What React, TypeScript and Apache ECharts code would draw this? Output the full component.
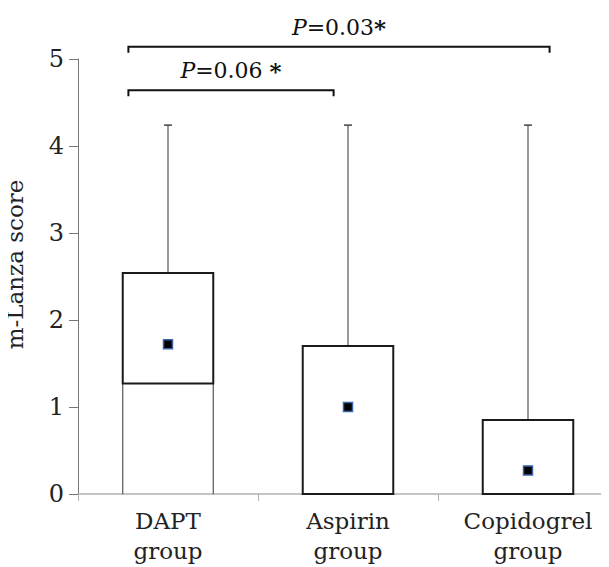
import React, { useEffect, useRef } from "react";
import * as echarts from "echarts";

const categories = ["DAPT\ngroup", "Aspirin\ngroup", "Copidogrel\ngroup"];
const boxLow = [1.27, 0, 0];
const boxHigh = [2.54, 1.7, 0.85];
const whiskerHigh = [4.24, 4.24, 4.24];
const whiskerBase = [0, 0, 0];
const means = [1.72, 1.0, 0.27];

const yTicks = [0, 1, 2, 3, 4, 5];

const bracketFrom = [-0.22, -0.22];
const bracketTo = [0.92, 2.12];
const bracketY = [4.64, 5.14];
const bracketP = ["0.06", "0.03"];
const bracketStarSep = [" ", ""];

const FONT = "'DejaVu Serif', serif";

export default function App() {
  const ref = useRef<HTMLDivElement>(null);
  useEffect(() => {
    if (!ref.current) return;
    const chart = echarts.init(ref.current, undefined, { renderer: "svg" });
    const boxData = categories.map((_, i) => [i, boxLow[i], boxHigh[i], whiskerHigh[i], whiskerBase[i]]);
    const bracketData = bracketY.map((y, i) => [bracketFrom[i], bracketTo[i], y, i]);
    chart.setOption({
      animation: false,
      grid: {
        left: 78,
        right: -9,
        top: 59,
        bottom: 73,
        containLabel: false,
        outerBoundsMode: "none",
      },
      xAxis: {
        type: "category",
        data: categories,
        boundaryGap: true,
        axisLine: { lineStyle: { color: "#b0b0b0", width: 1.5 } },
        axisTick: { show: true, length: 7, lineStyle: { color: "#b0b0b0" } },
        axisLabel: {
          fontFamily: FONT,
          fontSize: 23,
          color: "#222",
          lineHeight: 30,
          margin: 12,
        },
      },
      yAxis: {
        type: "value",
        min: 0,
        max: 5,
        interval: 1,
        name: "m-Lanza score",
        nameLocation: "middle",
        nameRotate: 90,
        nameGap: 52,
        nameTextStyle: { fontFamily: FONT, fontSize: 23, color: "#222", padding: [0, 0, 0, 24] },
        splitLine: { show: false },
        axisLine: { show: true, lineStyle: { color: "#777", width: 1 } },
        axisTick: { show: true, length: 9, lineStyle: { color: "#777" } },
        axisLabel: {
          fontFamily: FONT,
          fontSize: 24,
          color: "#222",
          margin: 14,
          formatter: (v: number) => (yTicks.includes(v) ? String(v) : ""),
        },
      },
      series: [
        {
          type: "custom",
          data: boxData,
          encode: { x: 0, y: [1, 2, 3] },
          clip: false,
          renderItem: (params: any, api: any) => {
            const idx = api.value(0);
            const lo = api.value(1);
            const hi = api.value(2);
            const wHi = api.value(3);
            const base = api.value(4);
            const band = api.size([1, 0])[0];
            const w = band * 0.503;
            const pHi = api.coord([idx, hi]);
            const pLo = api.coord([idx, lo]);
            const pW = api.coord([idx, wHi]);
            const pB = api.coord([idx, base]);
            const cx = pHi[0];
            const x0 = cx - w / 2;
            const x1 = cx + w / 2;
            const children: any[] = [
              {
                type: "line",
                shape: { x1: cx, y1: pW[1], x2: cx, y2: pHi[1] },
                style: { stroke: "#555", lineWidth: 1.2 },
              },
              {
                type: "line",
                shape: { x1: cx - 4, y1: pW[1], x2: cx + 4, y2: pW[1] },
                style: { stroke: "#444", lineWidth: 1.5 },
              },
            ];
            if (lo > base) {
              children.push(
                {
                  type: "line",
                  shape: { x1: x0, y1: pLo[1], x2: x0, y2: pB[1] },
                  style: { stroke: "#555", lineWidth: 1.2 },
                },
                {
                  type: "line",
                  shape: { x1: x1, y1: pLo[1], x2: x1, y2: pB[1] },
                  style: { stroke: "#555", lineWidth: 1.2 },
                }
              );
            }
            children.push({
              type: "rect",
              shape: { x: x0, y: pHi[1], width: w, height: pLo[1] - pHi[1] },
              style: { fill: "#fff", stroke: "#1a1a1a", lineWidth: 2 },
            });
            return { type: "group", children };
          },
          z: 2,
        },
        {
          type: "scatter",
          data: means.map((m, i) => [i, m]),
          symbol: "rect",
          symbolSize: 9,
          itemStyle: { color: "#000", borderColor: "#3a64a8", borderWidth: 1.5, opacity: 1 },
          z: 3,
        },
        {
          type: "custom",
          data: bracketData,
          encode: { y: 2 },
          clip: false,
          renderItem: (params: any, api: any) => {
            const from = api.value(0);
            const to = api.value(1);
            const y = api.value(2);
            const k = api.value(3);
            const band = api.size([1, 0])[0];
            const c0 = api.coord([0, y]);
            const xl = c0[0] + from * band;
            const xr = c0[0] + to * band;
            const py = c0[1];
            return {
              type: "group",
              children: [
                {
                  type: "polyline",
                  shape: { points: [[xl, py + 6], [xl, py], [xr, py], [xr, py + 6]] },
                  style: { stroke: "#111", lineWidth: 2, fill: "none" },
                },
                {
                  type: "text",
                  x: (xl + xr) / 2,
                  y: py - 8,
                  style: {
                    text: "{i|P}=" + bracketP[k] + bracketStarSep[k] + "{s|*}",
                    align: "center",
                    verticalAlign: "bottom",
                    fontFamily: FONT,
                    fontSize: 22,
                    fill: "#111",
                    rich: {
                      i: { fontFamily: FONT, fontStyle: "italic", fontSize: 22, fill: "#111" },
                      s: { fontFamily: FONT, fontWeight: "bold", fontSize: 23, fill: "#111" },
                    },
                  },
                },
              ],
            };
          },
          z: 4,
        },
      ],
    });
    return () => chart.dispose();
  }, []);
  return <div ref={ref} style={{ width: 609, height: 567, marginLeft: -8, marginTop: -8 }} />;
}
